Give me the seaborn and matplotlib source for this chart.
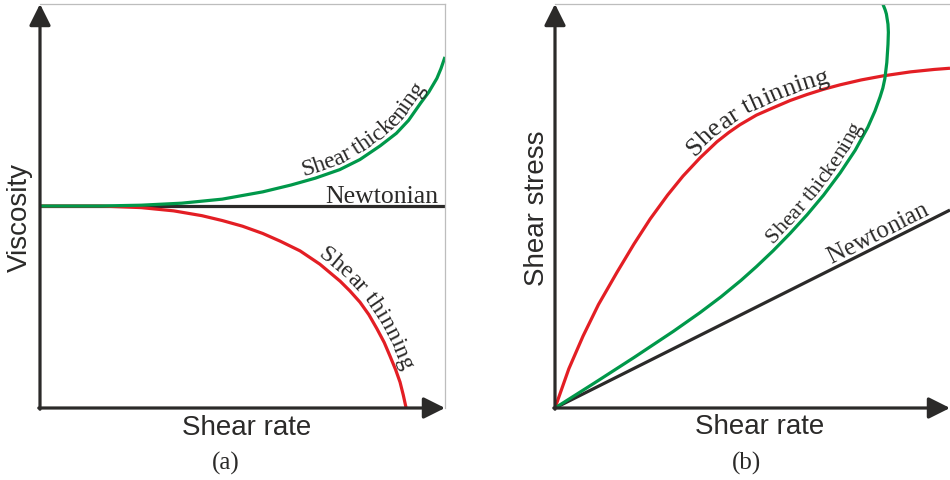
import matplotlib
matplotlib.use("Agg")
import numpy as np
import matplotlib.pyplot as plt
from matplotlib import font_manager, ft2font
from matplotlib.transforms import IdentityTransform
import seaborn as sns

sns.set_style("white")
plt.rcParams["font.family"] = ["Liberation Sans", "DejaVu Sans"]

# ---- (a) viscosity vs shear rate ----
visc_rate_newt = [0.0, 1.0]
visc_newt = [0.5, 0.5]

visc_rate_thick = [0.0, 0.15, 0.25, 0.35, 0.45, 0.55, 0.62, 0.68, 0.74, 0.79, 0.84,
                   0.88, 0.91, 0.94, 0.96, 0.98, 0.99, 1.0]
visc_thick = [0.5, 0.5, 0.502, 0.507, 0.517, 0.535, 0.552, 0.569, 0.590, 0.615, 0.649,
              0.680, 0.712, 0.755, 0.782, 0.816, 0.840, 0.869]

visc_rate_thin = [0.0, 0.15, 0.25, 0.33, 0.40, 0.45, 0.50, 0.55, 0.593, 0.642, 0.691,
                  0.741, 0.765, 0.790, 0.812, 0.832, 0.850, 0.864, 0.878, 0.889, 0.897, 0.904]
visc_thin = [0.5, 0.5, 0.496, 0.488, 0.476, 0.464, 0.450, 0.432, 0.413, 0.389, 0.356,
             0.314, 0.290, 0.262, 0.231, 0.196, 0.162, 0.129, 0.095, 0.064, 0.032, 0.0]

# ---- (b) shear stress vs shear rate ----
stress_rate_newt = [0.0, 1.0]
stress_newt = [0.0, 0.49]

stress_rate_thin = [0.0, 0.035, 0.071, 0.11, 0.157, 0.20, 0.241, 0.285, 0.324, 0.367,
                    0.41, 0.44, 0.468, 0.51, 0.552, 0.595, 0.638, 0.68, 0.722, 0.775,
                    0.83, 0.90, 0.96, 1.0]
stress_thin = [0.0, 0.097, 0.178, 0.256, 0.336, 0.406, 0.468, 0.527, 0.574, 0.619,
               0.659, 0.682, 0.701, 0.725, 0.743, 0.761, 0.776, 0.789, 0.800, 0.812,
               0.822, 0.832, 0.838, 0.841]

stress_rate_thick = [0.0, 0.1, 0.2, 0.3, 0.367, 0.42, 0.471, 0.51, 0.552, 0.595, 0.638,
                     0.68, 0.722, 0.76, 0.792, 0.81, 0.823, 0.83, 0.835, 0.840, 0.843,
                     0.844, 0.843, 0.839, 0.836, 0.830]
stress_thick = [0.0, 0.062, 0.125, 0.190, 0.236, 0.275, 0.316, 0.350, 0.389, 0.432, 0.478,
                0.527, 0.582, 0.638, 0.695, 0.735, 0.770, 0.792, 0.815, 0.855, 0.900,
                0.930, 0.950, 0.975, 0.985, 1.0]

BLACK = "#2b2a29"
RED = "#e31e24"
GREEN = "#00984a"
FRAME = "#bdbdbd"
SERIF = ["Liberation Serif", "DejaVu Serif"]
DPI = 100

fig = plt.figure(figsize=(9.5, 4.81), dpi=DPI)
ax_a = fig.add_axes([40 / 950, 72 / 481, 405 / 950, 404 / 481])
ax_b = fig.add_axes([555 / 950, 72 / 481, 395 / 950, 404 / 481])

line_kw = dict(estimator=None, sort=False, linewidth=2.3, legend=False)

serif_file = font_manager.findfont(font_manager.FontProperties(family=SERIF))


def style_axes(ax):
    ax.set_xlim(0, 1)
    ax.set_ylim(0, 1)
    ax.set_xticks([])
    ax.set_yticks([])
    ax.set_xlabel("")
    ax.set_ylabel("")
    for side in ("left", "bottom"):
        ax.spines[side].set_visible(False)
    for side in ("top", "right"):
        ax.spines[side].set_color(FRAME)
        ax.spines[side].set_linewidth(0.9)
    arrow = dict(arrowstyle="-|>,head_length=1.0,head_width=0.5", mutation_scale=13,
                 lw=2.3, color=BLACK, shrinkA=0, shrinkB=0)
    ax.annotate("", xy=(0, 1), xytext=(0, -0.003), xycoords="axes fraction",
                arrowprops=arrow, annotation_clip=False)
    ax.annotate("", xy=(1, 0), xytext=(-0.003, 0), xycoords="axes fraction",
                arrowprops=arrow, annotation_clip=False)


def advances(label, size):
    """Horizontal advance (px) of every glyph of the label, kerning included."""
    ft = ft2font.FT2Font(serif_file)
    ft.set_size(size, DPI)
    try:
        flag = ft2font.LoadFlags.NO_HINTING
        kern = ft2font.Kerning.UNFITTED
    except AttributeError:
        flag = ft2font.LOAD_NO_HINTING
        kern = ft2font.KERNING_UNFITTED
    out, prev = [], None
    for ch in label:
        idx = ft.get_char_index(ord(ch))
        glyph = ft.load_char(ord(ch), flags=flag)
        adv = glyph.linearHoriAdvance / 65536.0
        if prev is not None:
            out[-1] += ft.get_kerning(prev, idx, kern) / 64.0
        out.append(adv)
        prev = idx
    return out


def text_along(ax, xs, ys, label, near, offset, size):
    """Write a label letter by letter along a curve, `offset` px off its left side."""
    pts = ax.transData.transform(np.column_stack([xs, ys]))
    seg = np.diff(pts, axis=0)
    seglen = np.hypot(seg[:, 0], seg[:, 1])
    cum = np.concatenate([[0.0], np.cumsum(seglen)])

    c = ax.transData.transform([near])[0]
    best_d, s_mid = np.inf, 0.0
    for i in range(len(seg)):
        if seglen[i] == 0:
            continue
        t = np.clip(np.dot(c - pts[i], seg[i]) / seglen[i] ** 2, 0, 1)
        p = pts[i] + t * seg[i]
        d = np.hypot(*(c - p))
        if d < best_d:
            best_d, s_mid = d, cum[i] + t * seglen[i]

    def point_at(s):
        s = np.clip(s, 0, cum[-1])
        i = min(np.searchsorted(cum, s, side="right") - 1, len(seg) - 1)
        t = (s - cum[i]) / seglen[i] if seglen[i] > 0 else 0.0
        return pts[i] + t * seg[i]

    adv = advances(label, size)
    lefts = np.concatenate([[0.0], np.cumsum(adv)])
    total = lefts[-1]
    for k, ch in enumerate(label):
        if ch == " ":
            continue
        s = s_mid - total / 2 + (lefts[k] + lefts[k + 1]) / 2
        p = point_at(s)
        q0, q1 = point_at(s - 7), point_at(s + 7)
        tan = (q1 - q0) / np.hypot(*(q1 - q0))
        normal = np.array([-tan[1], tan[0]])
        pos = p + offset * normal
        ang = np.degrees(np.arctan2(tan[1], tan[0]))
        fig.text(pos[0], pos[1], ch, rotation=ang, rotation_mode="anchor",
                 ha="center", va="baseline", fontsize=size, family=SERIF,
                 color=BLACK, transform=IdentityTransform())


# panel (a)
sns.lineplot(x=visc_rate_newt, y=visc_newt, color=BLACK, ax=ax_a, **line_kw)
sns.lineplot(x=visc_rate_thin, y=visc_thin, color=RED, ax=ax_a, **line_kw)
sns.lineplot(x=visc_rate_thick, y=visc_thick, color=GREEN, ax=ax_a, **line_kw)
style_axes(ax_a)

# panel (b)
sns.lineplot(x=stress_rate_newt, y=stress_newt, color=BLACK, ax=ax_b, **line_kw)
sns.lineplot(x=stress_rate_thin, y=stress_thin, color=RED, ax=ax_b, **line_kw)
sns.lineplot(x=stress_rate_thick, y=stress_thick, color=GREEN, ax=ax_b, **line_kw)
style_axes(ax_b)
ax_b.spines["right"].set_visible(False)

# curve labels
text_along(ax_a, visc_rate_thick, visc_thick, "Shear thickening", (0.80, 0.69), 6, 17)
ax_a.text(0.845, 0.51, "Newtonian", ha="center", va="baseline",
          fontsize=18.5, family=SERIF, color=BLACK)
text_along(ax_a, visc_rate_thin, visc_thin, "Shear thinning", (0.825, 0.262), 6, 17.5)

text_along(ax_b, stress_rate_thin, stress_thin, "Shear thinning", (0.51, 0.745), 6, 19)
text_along(ax_b, stress_rate_thick, stress_thick, "Shear thickening", (0.665, 0.555), 6, 16)
text_along(ax_b, stress_rate_newt, stress_newt, "Newtonian", (0.815, 0.438), 6, 18)

# axis titles and panel tags
ax_a.text(0.509, -0.047, "Shear rate", transform=ax_a.transAxes, ha="center",
          va="center", fontsize=20, color=BLACK)
ax_a.text(-0.049, 0.475, "Viscosity", transform=ax_a.transAxes, ha="center",
          va="center", rotation=90, fontsize=20, color=BLACK)
ax_a.text(0.459, -0.134, "(a)", transform=ax_a.transAxes, ha="center",
          va="center", fontsize=18, family=SERIF, color=BLACK)

ax_b.text(0.519, -0.045, "Shear rate", transform=ax_b.transAxes, ha="center",
          va="center", fontsize=20, color=BLACK)
ax_b.text(-0.046, 0.4975, "Shear stress", transform=ax_b.transAxes, ha="center",
          va="center", rotation=90, fontsize=20, color=BLACK)
ax_b.text(0.484, -0.134, "(b)", transform=ax_b.transAxes, ha="center",
          va="center", fontsize=18, family=SERIF, color=BLACK)

for ax in (ax_a, ax_b):
    for ln in ax.get_lines():
        ln.set_solid_capstyle("butt")
        ln.set_solid_joinstyle("round")

fig.savefig("out.png", dpi=DPI, facecolor="white")
